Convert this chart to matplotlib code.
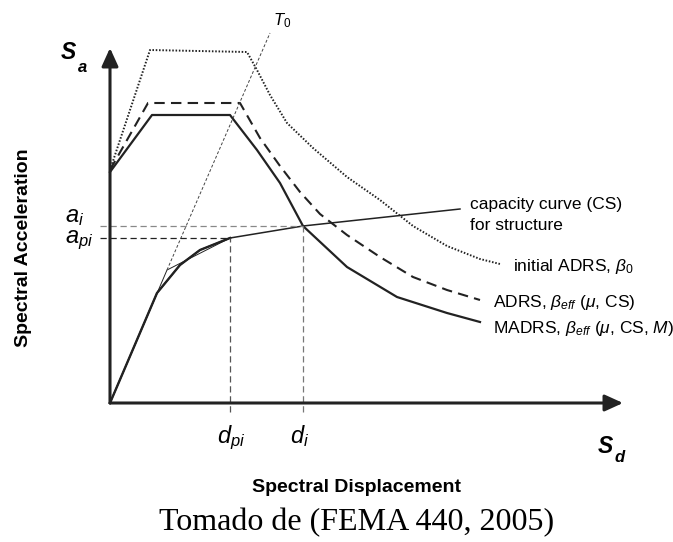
import numpy as np
import matplotlib
matplotlib.use('Agg')
import matplotlib.pyplot as plt

plt.rcParams['font.family'] = ['Liberation Sans', 'DejaVu Sans']
plt.rcParams['mathtext.fontset'] = 'custom'
plt.rcParams['mathtext.rm'] = 'Liberation Sans'
plt.rcParams['mathtext.it'] = 'Liberation Sans:italic'
plt.rcParams['mathtext.bf'] = 'Liberation Sans:bold'

# spectra (Sd, Sa in arbitrary units)
init_sd = [0.00, 0.40, 1.37, 1.47, 1.60, 1.77, 2.03, 2.37, 2.70, 3.03, 3.37, 3.70, 3.90]
init_sa = [2.33, 3.53, 3.51, 3.33, 3.08, 2.80, 2.55, 2.26, 2.03, 1.77, 1.57, 1.44, 1.39]

adrs_sd = [0.00, 0.38, 1.30, 1.50, 1.70, 1.90, 2.10, 2.37, 2.70, 3.03, 3.37, 3.70]
adrs_sa = [2.33, 3.00, 3.00, 2.65, 2.37, 2.11, 1.89, 1.68, 1.46, 1.26, 1.13, 1.03]

madrs_sd = [0.00, 0.42, 1.20, 1.47, 1.70, 1.93, 2.37, 2.87, 3.37, 3.70]
madrs_sa = [2.31, 2.88, 2.88, 2.53, 2.20, 1.77, 1.36, 1.06, 0.90, 0.81]

# capacity curve and its bilinear fit
cap_sd = [0.00, 0.47, 0.70, 0.90, 1.20, 1.93, 3.50]
cap_sa = [0.00, 1.10, 1.38, 1.53, 1.65, 1.77, 1.94]
bil_sd = [0.00, 0.57, 1.20]
bil_sa = [0.00, 1.33, 1.65]

# initial period line T0
t0_sd = [0.57, 1.60]
t0_sa = [1.33, 3.70]

a_i, a_pi = 1.77, 1.65
d_i, d_pi = 1.93, 1.20

fig = plt.figure(figsize=(6.73, 5.42), dpi=100)
ax = fig.add_axes([0, 0, 1, 1])
ax.set_xlim(-1.10, 5.63)
ax.set_ylim(-1.39, 4.03)
ax.axis('off')

k = '#222222'
ax.plot(init_sd, init_sa, color=k, lw=1.4, dashes=(0.8, 0.9))
ax.plot(adrs_sd, adrs_sa, color=k, lw=1.5, dashes=(5, 3))
ax.plot(madrs_sd, madrs_sa, color=k, lw=1.6)
ax.plot(cap_sd, cap_sa, color=k, lw=1.1)
ax.plot(cap_sd[:5], cap_sa[:5], color=k, lw=1.7)
ax.plot(bil_sd, bil_sa, color=k, lw=0.7)
ax.plot(t0_sd, t0_sa, color='#444444', lw=0.7, dashes=(3, 2))

# reference lines for the performance point
ax.plot([-0.10, d_i], [a_i, a_i], color='#888888', lw=0.9, dashes=(5, 3))
ax.plot([-0.10, d_pi], [a_pi, a_pi], color='#222222', lw=0.9, dashes=(5, 3))
ax.plot([d_pi, d_pi], [-0.09, a_pi], color='#555555', lw=0.9, dashes=(5, 3))
ax.plot([d_i, d_i], [-0.09, a_i], color='#777777', lw=0.9, dashes=(5, 3))

# axes arrows
arr = dict(arrowstyle='-|>,head_length=0.55,head_width=0.25', lw=2.2, color=k,
           mutation_scale=20, shrinkA=0, shrinkB=0)
ax.annotate('', xy=(0, 3.55), xytext=(0, 0), arrowprops=arr)
ax.annotate('', xy=(5.13, 0), xytext=(0, 0), arrowprops=arr)

ax.text(-0.49, 3.44, 'S', fontsize=16.5, fontweight='bold', style='italic', va='baseline')
ax.text(-0.32, 3.31, 'a', fontsize=12, fontweight='bold', style='italic', va='baseline')
ax.text(4.88, -0.50, 'S', fontsize=16.5, fontweight='bold', style='italic', va='baseline')
ax.text(5.05, -0.59, 'd', fontsize=12, fontweight='bold', style='italic', va='baseline')

ax.text(-0.45, 1.81, r'$a_i$', fontsize=17, va='baseline')
ax.text(-0.45, 1.60, r'$a_{pi}$', fontsize=17, va='baseline')
ax.text(1.07, -0.40, r'$d_{pi}$', fontsize=17, va='baseline')
ax.text(1.80, -0.40, r'$d_i$', fontsize=17, va='baseline')
ax.text(1.63, 3.78, r'$T_0$', fontsize=12, va='baseline')

ax.text(3.60, 1.98, 'capacity curve (CS)', fontsize=12.5, va='center')
ax.text(3.60, 1.77, 'for structure', fontsize=12.5, va='center')
ax.text(4.03, 1.37, r'initial ADRS, $\beta_0$', fontsize=12.5, va='center')
ax.text(3.83, 1.01, r'ADRS, $\beta_{eff}$ ($\mu$, CS)', fontsize=12.5, va='center')
ax.text(3.83, 0.75, r'MADRS, $\beta_{eff}$ ($\mu$, CS, $M$)', fontsize=12.5, va='center')

ax.text(-0.86, 1.55, 'Spectral Acceleration', fontsize=14, fontweight='bold',
        rotation=90, ha='center', va='center')
ax.text(2.47, -0.85, 'Spectral Displacement', fontsize=14, fontweight='bold',
        ha='center', va='center')
ax.text(2.47, -1.20, 'Tomado de (FEMA 440, 2005)', fontsize=23, family='Liberation Serif',
        ha='center', va='center')

fig.savefig('out.png', dpi=100)
